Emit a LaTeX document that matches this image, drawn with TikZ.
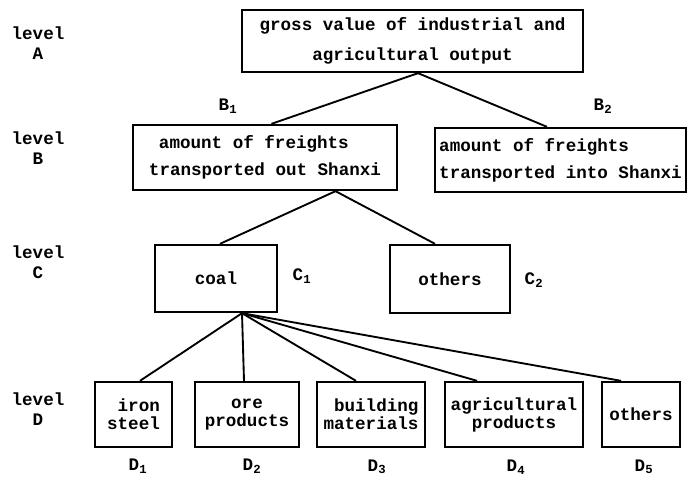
\documentclass[tikz,border=0pt]{standalone}
\usepackage{fontspec}
\setmonofont{Liberation Mono}
\usetikzlibrary{calc}

\begin{document}
\begin{tikzpicture}[x=0.03cm, y=-0.03cm,
    box/.style={draw, line width=2pt, inner sep=0pt, align=center,
      font=\ttfamily\bfseries\fontsize{15}{15.3}\selectfont},
    level/.style={align=center, font=\ttfamily\bfseries\fontsize{15}{17}\selectfont},
    tag/.style={font=\ttfamily\bfseries\fontsize{15}{17}\selectfont},
    link/.style={line width=1.6pt}]
    \useasboundingbox (0,0) rectangle (689,479);

    % ノード
    \node[box, minimum width=10.23cm, minimum height=1.86cm] (A) at (412.5, 41)
      {gross value of industrial and\\[10pt] agricultural output};
    \node[box, minimum width=7.92cm, minimum height=1.95cm, align=left] (B1) at (265, 157.5)
      {\hspace*{0.3cm}amount of freights\\[7.7pt] transported out Shanxi};
    \node[box, minimum width=7.53cm, minimum height=1.92cm, align=left] (B2) at (560.5, 160)
      {amount of freights\\[7.7pt]transported into Shanxi};
    \node[box, minimum width=3.66cm, minimum height=2.01cm] (coal) at (216, 278.5) {coal};
    \node[box, minimum width=3.6cm, minimum height=2.04cm] (oth) at (450, 279) {others};
    \node[box, minimum width=2.31cm, minimum height=1.95cm, align=right] (iron) at (133.5, 414.5) {iron\\steel};
    \node[box, minimum width=3.12cm, minimum height=1.95cm] (ore) at (247, 414.5) {ore\\products};
    \node[box, minimum width=3.24cm, minimum height=1.95cm, align=right] (build) at (371, 414.5) {building\\materials};
    \node[box, minimum width=4.14cm, minimum height=1.95cm] (agri) at (514, 414.5) {agricultural\\products};
    \node[box, minimum width=2.34cm, minimum height=1.95cm] (othd) at (641, 414.5) {others};

    % レベル
    \node[level] (lA) at (38, 43) {level\\A};
    \node[level] (lB) at (38, 148) {level\\B};
    \node[level] (lC) at (38, 262) {level\\C};
    \node[level] (lD) at (38, 409) {level\\D};

    % ラベル
    \node[tag] (tB1) at (228, 106) {B\textsubscript{1}};
    \node[tag] (tB2) at (603, 106) {B\textsubscript{2}};
    \node[tag] (tC1) at (302, 276) {C\textsubscript{1}};
    \node[tag] (tC2) at (534, 280) {C\textsubscript{2}};
    \node[tag] (tD1) at (138, 466) {D\textsubscript{1}};
    \node[tag] (tD2) at (252, 466) {D\textsubscript{2}};
    \node[tag] (tD3) at (377, 467) {D\textsubscript{3}};
    \node[tag] (tD4) at (516, 467) {D\textsubscript{4}};
    \node[tag] (tD5) at (644, 467) {D\textsubscript{5}};

    % エッジ
    \draw[link] ($(A.south)+(5.5,0)$) -- ($(B1.north)+(6.5,0)$);
    \draw[link] ($(A.south)+(5.5,0)$) -- ($(B2.north)+(-13.5,0)$);
    \draw[link] ($(B1.south)+(70.5,0)$) -- ($(coal.north)+(4,0)$);
    \draw[link] ($(B1.south)+(70.5,0)$) -- ($(oth.north)+(-15,0)$);
    \draw[link] ($(coal.south)+(26,0)$) -- ($(iron.north)+(6.5,0)$);
    \draw[link] ($(coal.south)+(26,0)$) -- ($(ore.north)+(-3,0)$);
    \draw[link] ($(coal.south)+(26,0)$) -- ($(build.north)+(-15,0)$);
    \draw[link] ($(coal.south)+(26,0)$) -- ($(agri.north)+(-37,0)$);
    \draw[link] ($(coal.south)+(26,0)$) -- ($(othd.north)+(-20,0)$);
  \end{tikzpicture}
\end{document}
